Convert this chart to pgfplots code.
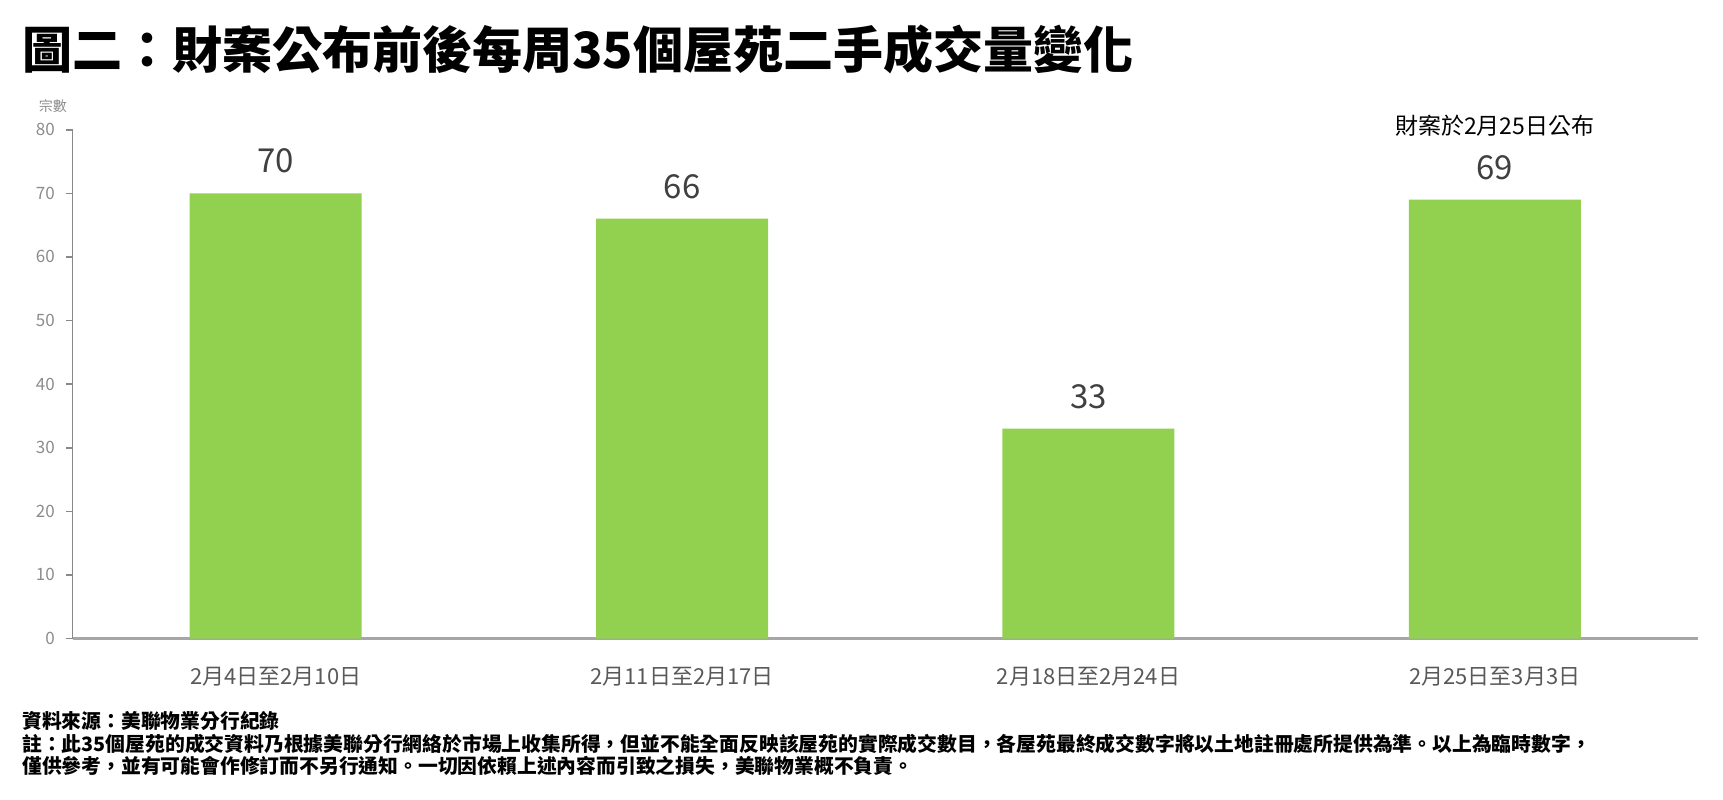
\documentclass[border=0pt]{standalone}
\usepackage{fontspec}
\setmainfont{Noto Sans CJK TC}
\usepackage{pgfplots}
\pgfplotsset{compat=1.18}
\definecolor{barGreen}{HTML}{92D050}
\definecolor{valGrey}{HTML}{404040}
\definecolor{catGrey}{HTML}{595959}
\definecolor{tickGrey}{HTML}{8C8C8C}
\definecolor{yaxGrey}{HTML}{898989}
\definecolor{xaxGrey}{HTML}{A6A6A6}

\begin{document}
\begin{tikzpicture}
  \path[use as bounding box] (0,0) rectangle (861.5pt,399.5pt);

  % title
  \node[anchor=base west, inner sep=0pt, font=\fontsize{25}{30}\selectfont\bfseries]
    at (11pt,365.3pt) {圖二：財案公布前後每周35個屋苑二手成交量變化};

  \begin{axis}[
      at={(36.25pt,80.25pt)}, anchor=south west,
      scale only axis, width=812.75pt, height=254.4pt,
      xmin=-0.5, xmax=3.5, ymin=0, ymax=80,
      axis x line*=bottom, axis y line*=left,
      axis line style={-},
      x axis line style={draw=xaxGrey, line width=1.6pt},
      y axis line style={draw=yaxGrey, line width=0.8pt},
      xtick=data,
      xticklabels={2月4日至2月10日,2月11日至2月17日,2月18日至2月24日,2月25日至3月3日},
      xtick style={draw=none},
      xticklabel style={anchor=center, yshift=-15.75pt, font=\fontsize{11}{13}\selectfont, text=catGrey},
      ytick={0,10,...,80},
      tick align=outside, major tick length=3.3pt,
      ytick style={draw=yaxGrey, line width=0.8pt},
      yticklabel style={font=\fontsize{8.5}{10}\selectfont, text=tickGrey, xshift=-2pt},
      /pgf/number format/assume math mode=true,
      clip=false,
      ybar, bar width=86pt,
      nodes near coords,
      nodes near coords style={font=\fontsize{16.5}{19}\selectfont, text=valGrey, anchor=south, yshift=6.5pt},
    ]
    \addplot[fill=barGreen, draw=none] coordinates {(0,70) (1,66) (2,33) (3,69)};
  \end{axis}

  % y unit
  \node[font=\fontsize{7}{8}\selectfont, text=tickGrey] at (26.4pt,346.2pt) {宗數};
  % annotation
  \node[anchor=base, inner sep=0pt, font=\fontsize{11.5}{13}\selectfont] at (747.4pt,332.1pt) {財案於2月25日公布};

  % footnotes
  \begin{scope}[every node/.style={anchor=base west, inner sep=0pt, font=\fontsize{9.9}{12}\selectfont\bfseries}]
    \node at (11pt,35.2pt) {資料來源：美聯物業分行紀錄};
    \node at (11pt,23.7pt) {註：此35個屋苑的成交資料乃根據美聯分行網絡於市場上收集所得，但並不能全面反映該屋苑的實際成交數目，各屋苑最終成交數字將以土地註冊處所提供為準。以上為臨時數字，};
    \node at (11pt,12.7pt) {僅供參考，並有可能會作修訂而不另行通知。一切因依賴上述內容而引致之損失，美聯物業概不負責。};
  \end{scope}
\end{tikzpicture}
\end{document}
